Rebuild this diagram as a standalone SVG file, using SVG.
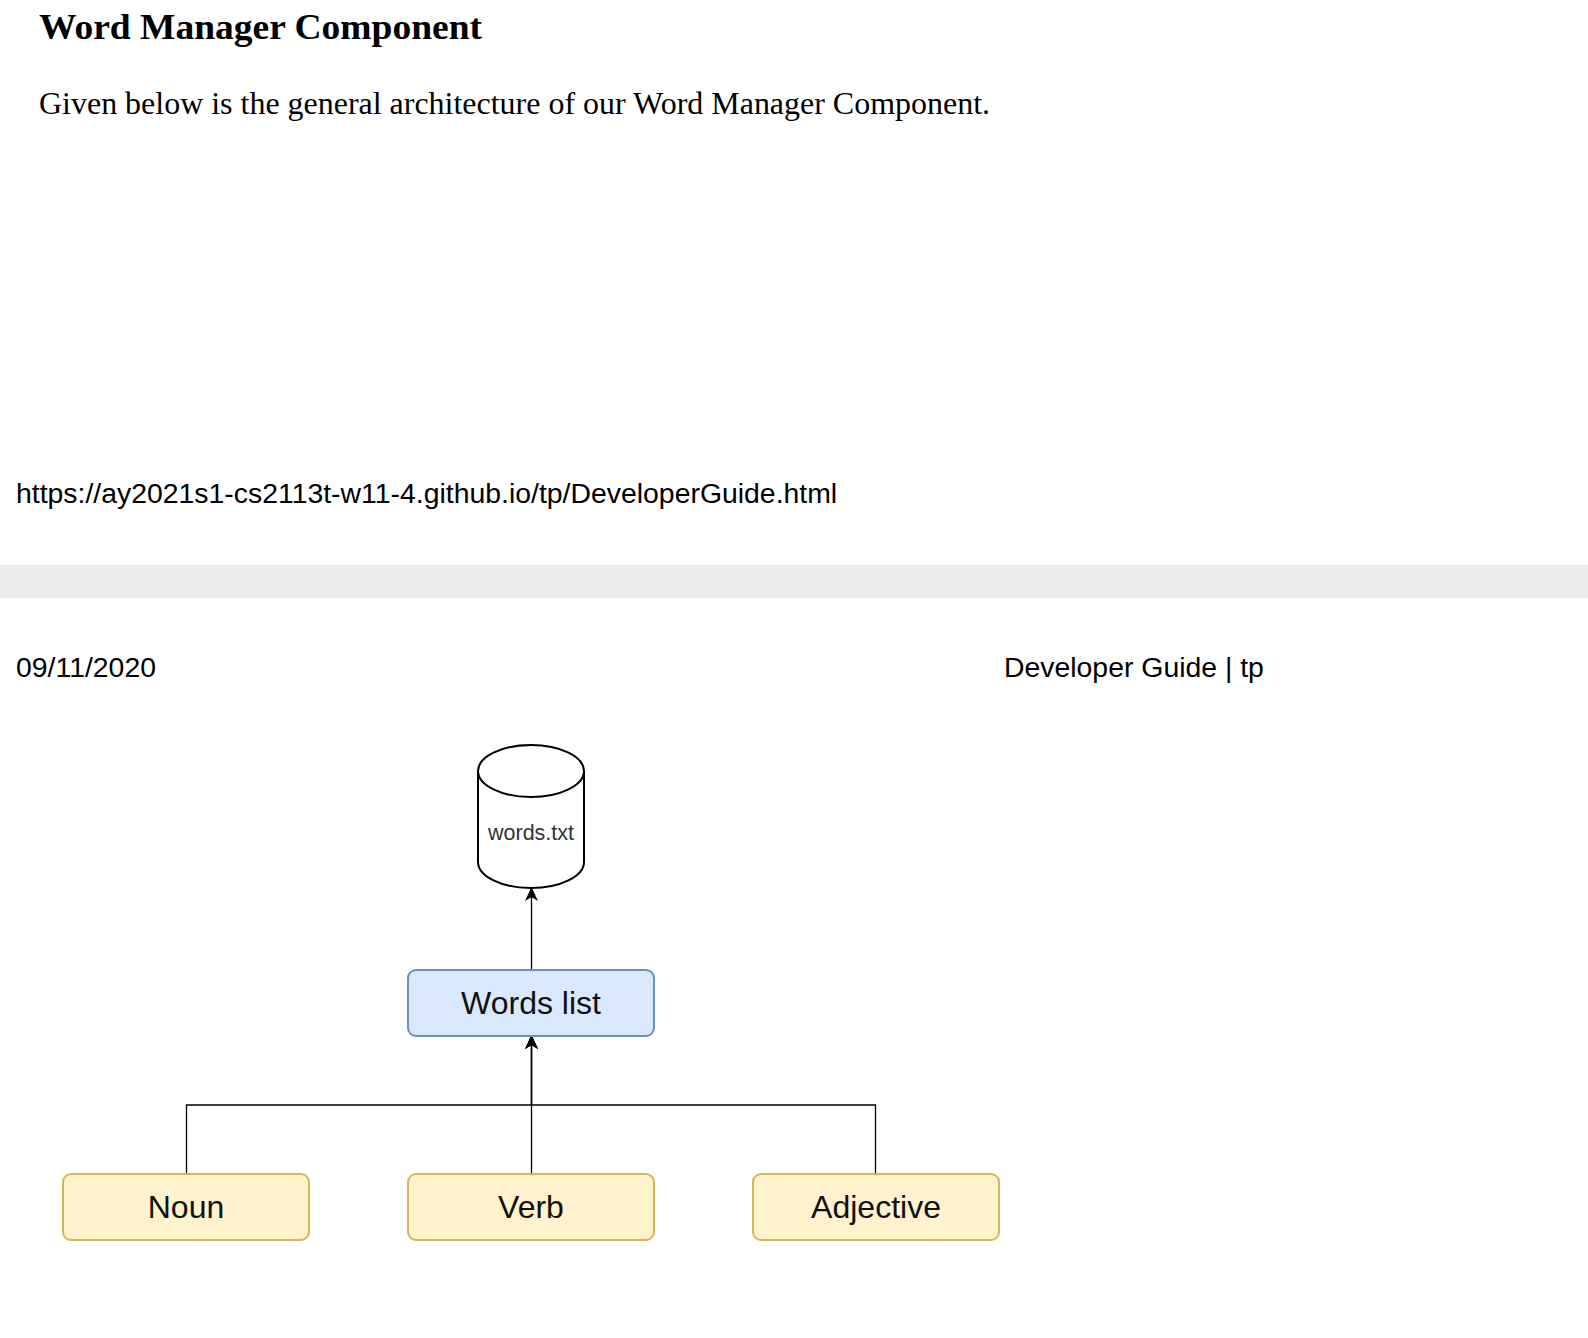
<svg xmlns="http://www.w3.org/2000/svg" width="1588" height="1338" viewBox="0 0 1588 1338">
<style>
.serif{font-family:"Liberation Serif","Times New Roman",serif;fill:#000}
.sans{font-family:"Liberation Sans",Arial,sans-serif;fill:#000;font-size:28.4px}
.blue{fill:#dae8fc;stroke:#6c8ebf;stroke-width:2}
.yellow{fill:#fff2cc;stroke:#d6b656;stroke-width:2}
.lbl{font-family:"Liberation Sans",Arial,sans-serif;font-size:32px;fill:#111;text-anchor:middle}
.edge{fill:none;stroke:#000;stroke-width:1.3}
</style>
<defs>
<marker id="arr" viewBox="0 0 14 13" refX="13" refY="6.5" markerWidth="14" markerHeight="13" markerUnits="userSpaceOnUse" orient="auto">
<path d="M0,0 L14,6.5 L0,13 L4,6.5 Z" fill="#000"/>
</marker>
</defs>
<rect width="1588" height="1338" fill="#fff"/>
<text class="serif" x="39" y="39" font-size="36" font-weight="bold" textLength="443" lengthAdjust="spacingAndGlyphs">Word Manager Component</text>
<text class="serif" x="39" y="114" font-size="31" textLength="951" lengthAdjust="spacingAndGlyphs">Given below is the general architecture of our Word Manager Component.</text>
<text class="sans" x="16" y="503">https://ay2021s1-cs2113t-w11-4.github.io/tp/DeveloperGuide.html</text>
<rect x="0" y="565" width="1588" height="33" fill="#ebebeb"/>
<text class="sans" x="16" y="677">09/11/2020</text>
<text class="sans" x="1004" y="677">Developer Guide | tp</text>

<g id="connectors">
<path class="edge" d="M531.5,970 V888" marker-end="url(#arr)"/>
<path class="edge" d="M186.5,1174 V1105 H531.5 V1036" marker-end="url(#arr)"/>
<path class="edge" d="M875.5,1174 V1105 H531.5 V1036" marker-end="url(#arr)"/>
<path class="edge" d="M531.5,1174 V1036" marker-end="url(#arr)"/>
</g>

<g id="words-txt">
<path d="M478,771 A53,26 0 0 1 584,771 V862 A53,26 0 0 1 478,862 Z" fill="#fff" stroke="#000" stroke-width="2"/>
<path d="M478,771 A53,26 0 0 0 584,771" fill="none" stroke="#000" stroke-width="2"/>
<text x="531" y="840" font-family="Liberation Sans, Arial, sans-serif" font-size="21.5" fill="#333" text-anchor="middle">words.txt</text>
</g>
<g id="words-list">
<rect class="blue" x="408" y="970" width="246" height="66" rx="8"/>
<text class="lbl" x="531" y="1014">Words list</text>
</g>
<g id="noun">
<rect class="yellow" x="63" y="1174" width="246" height="66" rx="8"/>
<text class="lbl" x="186" y="1218">Noun</text>
</g>
<g id="verb">
<rect class="yellow" x="408" y="1174" width="246" height="66" rx="8"/>
<text class="lbl" x="531" y="1218">Verb</text>
</g>
<g id="adjective">
<rect class="yellow" x="753" y="1174" width="246" height="66" rx="8"/>
<text class="lbl" x="876" y="1218">Adjective</text>
</g>
</svg>
